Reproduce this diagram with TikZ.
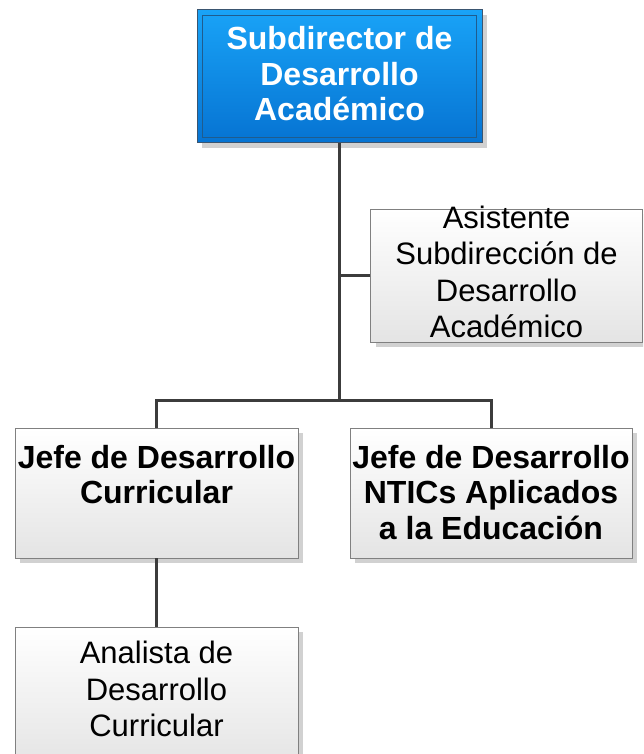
\documentclass[tikz,border=0pt]{standalone}
\usepackage{fontspec}
\setmainfont{Liberation Sans}
\usetikzlibrary{shadows}
\definecolor{topA}{HTML}{19A3F7}
\definecolor{topB}{HTML}{0673D2}
\definecolor{topEdge}{HTML}{3A5570}
\definecolor{topInner}{HTML}{1F5C8E}
\definecolor{boxEdge}{HTML}{808080}
\definecolor{boxBot}{HTML}{E4E4E4}
\definecolor{wire}{HTML}{3C3C3C}
\tikzset{
  shade/.style={general shadow={fill=black!18, shadow xshift=5pt, shadow yshift=-5pt}},
  bluebox/.style={shade, draw=topEdge, line width=1pt, top color=topA, bottom color=topB, inner sep=0pt},
  graybox/.style={shade, draw=boxEdge, line width=0.8pt, top color=white, bottom color=boxBot, inner sep=0pt},
  boldtxt/.style={font=\fontsize{32}{35.5}\selectfont\bfseries, align=center, inner sep=0pt},
  regtxt/.style={font=\fontsize{31}{36.5}\selectfont, align=center, inner sep=0pt},
  wirestyle/.style={draw=wire, line width=3pt}
}
\begin{document}
\begin{tikzpicture}[x=1pt, y=-1pt]
\useasboundingbox (0,0) rectangle (643,754);
\clip (0,0) rectangle (643,754);
% boxes
\node[bluebox, minimum width=285pt, minimum height=133pt] (top) at (339.5,76.5) {};
\draw[topInner, line width=1.2pt] ([shift={(6,6)}]top.north west) rectangle ([shift={(-6,-6)}]top.south east);
\node[graybox, minimum width=272pt, minimum height=133pt] (asist) at (506.5,275.5) {};
\node[graybox, minimum width=283pt, minimum height=130pt] (jc) at (156.5,493) {};
\node[graybox, minimum width=282pt, minimum height=130pt] (jn) at (491,493) {};
\node[graybox, minimum width=283pt, minimum height=140pt] (an) at (156.5,697) {};
% texts
\node[boldtxt, text=white] (topT) at (339.5,74) {Subdirector de\\Desarrollo\\Académico};
\node[regtxt] (asistT) at (506.5,272) {Asistente\\Subdirección de\\Desarrollo\\Académico};
\node[boldtxt] (jcT) at (156.5,474.5) {Jefe de Desarrollo\\Curricular};
\node[boldtxt] (jnT) at (491,492.5) {Jefe de Desarrollo\\NTICs Aplicados\\a la Educación};
\node[regtxt] (anT) at (156.5,689) {Analista de\\Desarrollo\\Curricular};
% connectors
\coordinate (bus) at (339.5,400);
\draw[wirestyle] (top.south) -- (bus);
\draw[wirestyle] (asist.west) -- (asist.west -| top.south);
\draw[wirestyle] (jc.north) |- (bus) -| (jn.north);
\draw[wirestyle] (jc.south) -- (an.north);
\end{tikzpicture}
\end{document}
